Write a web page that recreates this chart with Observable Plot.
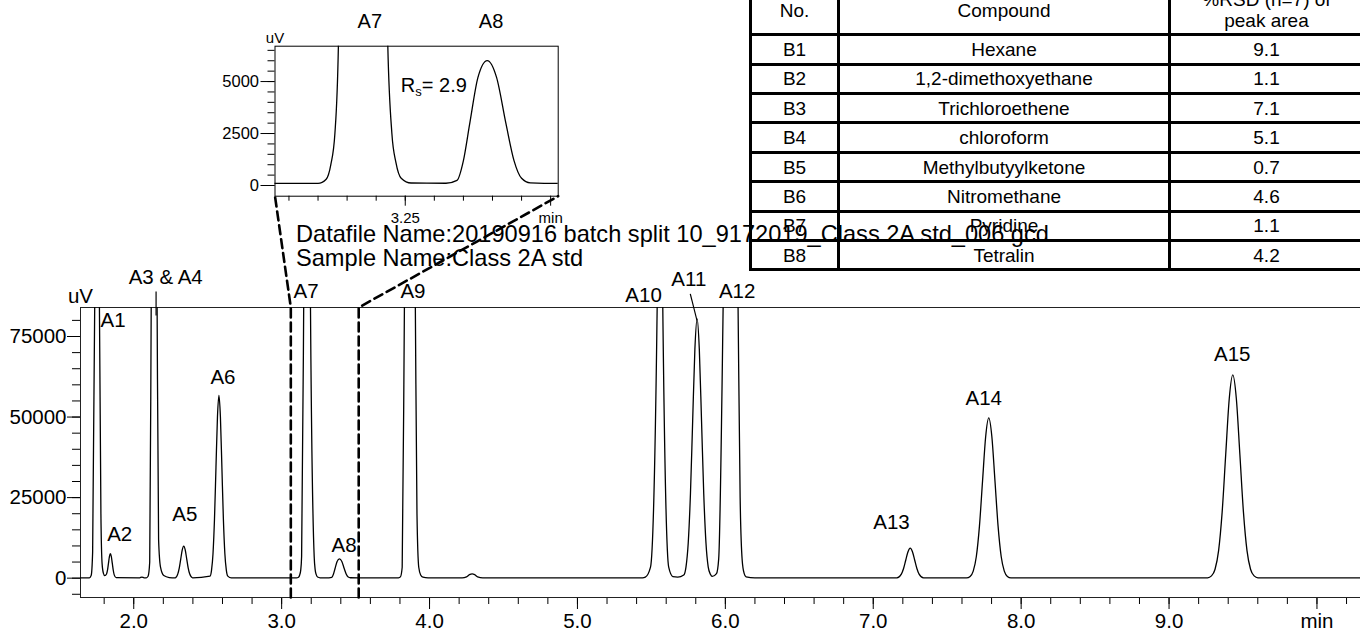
<!DOCTYPE html>
<html><head><meta charset="utf-8">
<script src="https://cdn.jsdelivr.net/npm/d3@7"></script>
<script src="https://cdn.jsdelivr.net/npm/@observablehq/plot@0.6"></script>
<style>
html,body{margin:0;padding:0;background:#fff;overflow:hidden;}
#wrap{position:relative;width:1360px;height:633px;overflow:hidden;font-family:"Liberation Sans",Arial,sans-serif;}
#wrap svg{position:absolute;left:0;top:0;max-width:none;background:transparent;}
#info{position:absolute;left:296px;top:221.5px;font-size:23.6px;line-height:24.7px;white-space:nowrap;color:#000;z-index:5;}
#tbl{position:absolute;left:749px;top:-16.3px;border-collapse:collapse;table-layout:fixed;font-size:19px;z-index:4;}
#tbl td{border:3px solid #000;text-align:center;padding:0;height:29.4px;box-sizing:border-box;line-height:21px;vertical-align:middle;}
#tbl tr.hd td{height:49.6px;}
</style></head>
<body><div id="wrap"></div>
<script>
// ---------- data ----------
// chromatogram trace: retention time (min) and detector signal (uV)
const rt = [
1.640, 1.700, 1.712, 1.722, 1.736, 1.752, 1.768, 1.778, 1.786, 1.795, 1.804,
1.816, 1.8225, 1.829, 1.8355, 1.842, 1.8485, 1.855, 1.8615, 1.868, 1.881,
2.040, 2.055, 2.070,
2.085, 2.097, 2.108, 2.118, 2.138, 2.158, 2.168, 2.181, 2.203, 2.240,
2.280, 2.298, 2.308, 2.318, 2.328, 2.338, 2.348, 2.358, 2.368, 2.378, 2.398,
2.516, 2.526, 2.536, 2.546, 2.556, 2.566, 2.576, 2.586, 2.596, 2.606, 2.616, 2.626, 2.636, 2.660,
3.100, 3.114, 3.122, 3.129, 3.135, 3.149, 3.172, 3.195, 3.220, 3.227, 3.234, 3.243, 3.260,
3.320, 3.339, 3.350, 3.361, 3.375, 3.391, 3.407, 3.423, 3.437, 3.450, 3.465, 3.520,
3.790, 3.803, 3.815, 3.830, 3.867, 3.904, 3.915, 3.927, 3.940, 3.955, 3.990,
4.220, 4.250, 4.270, 4.288, 4.305, 4.325, 4.360,
5.440, 5.459, 5.494, 5.539, 5.558, 5.577, 5.617, 5.645, 5.678,
5.719, 5.734, 5.749, 5.764, 5.779, 5.794, 5.809, 5.824, 5.839, 5.854, 5.869, 5.884, 5.899, 5.911,
5.940, 5.955, 5.985, 6.035, 6.086, 6.100, 6.114, 6.127, 6.140, 6.200,
7.160, 7.190, 7.205, 7.220, 7.235, 7.250, 7.265, 7.280, 7.295, 7.310, 7.340,
7.631, 7.655, 7.676, 7.697, 7.718, 7.739, 7.760, 7.781, 7.802, 7.823, 7.844, 7.865, 7.886, 7.907, 7.931,
9.261, 9.287, 9.311, 9.335, 9.359, 9.383, 9.407, 9.431, 9.455, 9.479, 9.503, 9.527, 9.551, 9.575, 9.601,
10.335];
const uv = [
80, 100, 800, 8000, 84000, 300000, 84000, 20000, 4500, 1500, 800,
1300, 2460, 4590, 6680, 7570, 6680, 4590, 2460, 1020, 150,
100, 350, 100,
120, 600, 5000, 84000, 300000, 84000, 12000, 3400, 800, 200,
110, 1340, 3220, 6020, 8760, 9930, 8760, 6020, 3220, 1340, 110,
630, 2490, 7670, 18410, 34390, 50000, 56700, 50000, 34390, 18410, 7670, 2490, 630, 100,
100, 300, 1000, 2500, 6700, 84000, 300000, 84000, 6700, 2500, 1100, 350, 120,
110, 250, 1200, 3000, 5200, 6010, 5200, 3000, 1200, 350, 130, 100,
100, 400, 3400, 84000, 300000, 84000, 20000, 3400, 1000, 300, 100,
100, 400, 1100, 1360, 1100, 400, 100,
100, 300, 3400, 84000, 300000, 84000, 3400, 500, 350,
1000, 3530, 10900, 26100, 48800, 71000, 80500, 71000, 48800, 26100, 10900, 3530, 1200, 530,
1400, 6000, 84000, 300000, 84000, 25000, 5500, 1500, 400, 100,
100, 1260, 3020, 5650, 8210, 9300, 8210, 5650, 3020, 1260, 100,
80, 550, 2190, 6730, 16150, 30170, 43900, 49750, 43900, 30170, 16150, 6730, 2190, 550, 80,
100, 700, 2770, 8540, 20500, 38280, 55700, 63100, 55700, 38280, 20500, 8540, 2770, 700, 100,
80];

// peak labels (anchor position in min / uV)
const peakNames = ["A1","A2","A3 & A4","A5","A6","A7","A8","A9","A10","A11","A12","A13","A14","A15"];
const labelRt = [1.860, 1.905, 2.216, 2.345, 2.603, 3.165, 3.422, 3.888, 5.447, 5.753, 6.080, 7.123, 7.747, 9.427];
const labelUv = [77900, 11480, 91370, 17690, 60110, 86800, 8070, 86800, 85650, 90530, 87020, 15330, 53600, 67250];
// leader lines: [rt1, uv1, rt2, uv2]
const leaders = [[2.151, 88980, 2.151, 81530], [5.763, 88260, 5.808, 79980]];

// axes
const xDomain = [1.64, 10.335];
const yDomain = [-6000, 84000];
const xMajor = [2, 3, 4, 5, 6, 7, 8, 9, 10];
const xMajorLabels = ["2.0", "3.0", "4.0", "5.0", "6.0", "7.0", "8.0", "9.0", "min"];
const yMajor = [0, 25000, 50000, 75000];

// zoom window
const zoomBox = [3.062, 3.521];
const insetXDomain = [3.026, 3.513];
const insetYDomain = [-514, 6700];
const insetXMajor = [3.25, 3.5];
const insetXMajorLabels = ["3.25", "min"];
const insetYMajor = [0, 2500, 5000];
const insetNames = ["A7", "A8"];
const insetLabelRt = [3.189, 3.3976];
const insetLabelUv = [7563, 7563];
const resolution = {rt: 3.2424, uv: 4486, value: "2.9"};

// table
const compNo = ["B1","B2","B3","B4","B5","B6","B7","B8"];
const compName = ["Hexane","1,2-dimethoxyethane","Trichloroethene","chloroform","Methylbutyylketone","Nitromethane","Pyridine","Tetralin"];
const compRsd = ["9.1","1.1","7.1","5.1","0.7","4.6","1.1","4.2"];
const headers = ["No.", "Compound", "%RSD (n=7) of<br>peak area"];

const datafileName = "Datafile Name:20190916 batch split 10_9172019_Class 2A std_006.gcd";
const sampleName = "Sample Name:Class 2A std";

// ---------- layout ----------
const W = 1366, H = 633;
const M = {left: 80, right: 0, top: 307, bottom: 36};
const I = {width: 600, height: 240, left: 274.5, right: 42.3, top: 45.7, bottom: 44.3};
const FONT = '"Liberation Sans", Arial, sans-serif';

const trace = rt.map((t, i) => ({t, v: uv[i]}));
const labels = peakNames.map((n, i) => ({n, t: labelRt[i], v: labelUv[i]}));
const leaderData = leaders.map(([x1, y1, x2, y2]) => ({x1, y1, x2, y2}));

const mx = Plot.scale({x: {domain: xDomain, range: [M.left, W - M.right]}});
const my = Plot.scale({y: {domain: yDomain, range: [H - M.bottom, M.top]}});
const insBottomPx = I.height - I.bottom;
const connectors = [
  {s: "L", t: zoomBox[0], v: yDomain[0]},
  {s: "L", t: zoomBox[0], v: yDomain[1]},
  {s: "L", t: mx.invert(I.left), v: my.invert(insBottomPx)},
  {s: "R", t: zoomBox[1], v: yDomain[0]},
  {s: "R", t: zoomBox[1], v: yDomain[1]},
  {s: "R", t: mx.invert(I.width - I.right), v: my.invert(insBottomPx)}
];

const minorX = d3.range(18, 104, 2).map(d => d / 10);
const minorY = d3.range(-5000, 80001, 5000);

const mainPlot = Plot.plot({
  width: W, height: H,
  marginLeft: M.left, marginRight: M.right, marginTop: M.top, marginBottom: M.bottom,
  style: {fontFamily: FONT, fontSize: "20px", color: "#000", background: "transparent"},
  x: {domain: xDomain},
  y: {domain: yDomain},
  marks: [
    Plot.axisX({ticks: minorX, tickSize: 7, tickFormat: () => "", label: null}),
    Plot.axisX({ticks: xMajor, tickSize: 12, tickPadding: 4, fontSize: 20.5, label: null,
      tickFormat: d => xMajorLabels[xMajor.indexOf(d)]}),
    Plot.axisY({ticks: minorY, tickSize: 8, tickFormat: () => "", label: null}),
    Plot.axisY({ticks: yMajor, tickSize: 13, tickPadding: 1, fontSize: 20.5, label: null,
      tickFormat: d => String(d)}),
    Plot.frame({stroke: "#222", strokeWidth: 1}),
    Plot.line(trace, {x: "t", y: "v", curve: "monotone-x", stroke: "#000", strokeWidth: 1.3, clip: true}),
    Plot.link(leaderData, {x1: "x1", y1: "y1", x2: "x2", y2: "y2", stroke: "#000", strokeWidth: 1.2}),
    Plot.text(labels, {x: "t", y: "v", text: "n", fontSize: 20.5, textAnchor: "middle", lineAnchor: "bottom", fill: "#000"}),
    Plot.text(["uV"], {text: d => d, frameAnchor: "top-left", textAnchor: "middle", lineAnchor: "bottom", dy: -4.3, fontSize: 20.5, fill: "#000"}),
    Plot.line(connectors, {x: "t", y: "v", z: "s", stroke: "#000", strokeWidth: 2.6, strokeDasharray: "9,5", clip: false})
  ]
});

const minorIX = d3.range(61, 70).map(d => d / 20);
const minorIY = d3.range(0, 6501, 500);

const insetPlot = Plot.plot({
  width: I.width, height: I.height,
  marginLeft: I.left, marginRight: I.right, marginTop: I.top, marginBottom: I.bottom,
  style: {fontFamily: FONT, fontSize: "16px", color: "#000", background: "transparent"},
  x: {domain: insetXDomain},
  y: {domain: insetYDomain},
  marks: [
    Plot.axisX({ticks: minorIX, tickSize: 5, tickFormat: () => "", label: null}),
    Plot.axisX({ticks: insetXMajor, tickSize: 10, tickPadding: 6, fontSize: 15, label: null,
      tickFormat: d => insetXMajorLabels[insetXMajor.indexOf(d)]}),
    Plot.axisY({ticks: minorIY, tickSize: 7, tickFormat: () => "", label: null}),
    Plot.axisY({ticks: insetYMajor, tickSize: 14, tickPadding: 2, fontSize: 16.5, label: null,
      tickFormat: d => String(d)}),
    Plot.frame({stroke: "#000", strokeWidth: 1}),
    Plot.line(trace, {x: "t", y: "v", curve: "monotone-x", stroke: "#000", strokeWidth: 1.3, clip: true}),
    Plot.text(insetNames, {x: (d, i) => insetLabelRt[i], y: (d, i) => insetLabelUv[i], text: d => d,
      fontSize: 20, textAnchor: "middle", lineAnchor: "bottom", fill: "#000"}),
    Plot.text(["uV"], {text: d => d, frameAnchor: "top-left", textAnchor: "middle", lineAnchor: "bottom", dy: -3.4, fontSize: 15, fill: "#000"}),
    Plot.text([resolution], {x: "rt", y: "uv", text: () => "R", fontSize: 20, textAnchor: "start", lineAnchor: "bottom", fill: "#000"}),
    Plot.text([resolution], {x: "rt", y: "uv", text: () => "s", fontSize: 13, dx: 14.5, dy: 4, textAnchor: "start", lineAnchor: "bottom", fill: "#000"}),
    Plot.text([resolution], {x: "rt", y: "uv", text: d => "= " + d.value, fontSize: 20, dx: 21, textAnchor: "start", lineAnchor: "bottom", fill: "#000"})
  ]
});

const wrap = document.getElementById("wrap");
for (const svg of [mainPlot, insetPlot]) {
  svg.style.maxWidth = "none";
  svg.style.background = "transparent";
  svg.style.position = "absolute";
  svg.style.left = "0px";
  svg.style.top = "0px";
  wrap.appendChild(svg);
}

// table
const tbl = document.createElement("table");
tbl.id = "tbl";
const colW = [88, 331, 194];
let html = "<colgroup>" + colW.map(w => `<col style="width:${w}px">`).join("") + "</colgroup>";
html += '<tr class="hd">' + headers.map(h => `<td>${h}</td>`).join("") + "</tr>";
compNo.forEach((n, i) => {
  html += `<tr><td>${n}</td><td>${compName[i]}</td><td>${compRsd[i]}</td></tr>`;
});
tbl.innerHTML = html;
tbl.style.width = colW.reduce((a, b) => a + b, 0) + "px";
wrap.appendChild(tbl);

const info = document.createElement("div");
info.id = "info";
info.innerHTML = `<div>${datafileName}</div><div>${sampleName}</div>`;
wrap.appendChild(info);
</script>
</body></html>
